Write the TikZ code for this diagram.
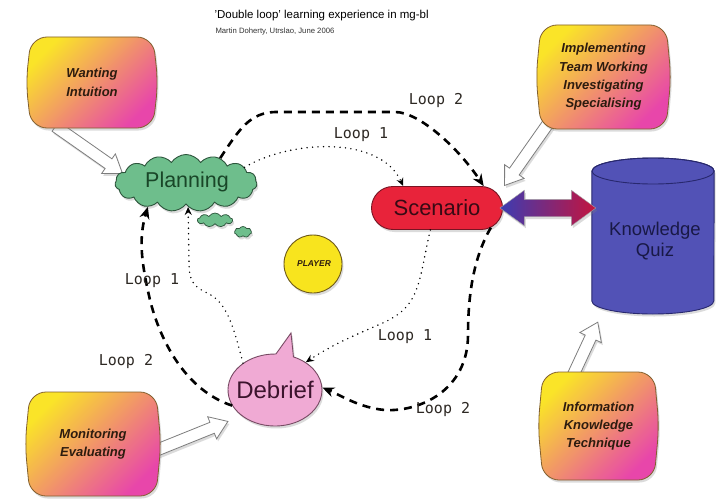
\documentclass[tikz,border=0pt]{standalone}
\usepackage{fontspec}
\setmainfont{Liberation Sans}
\newfontfamily\loopfont{DejaVu Sans Mono}
\usetikzlibrary{shapes.symbols,shapes.misc,shapes.arrows,shapes.callouts,arrows.meta,calc,shadows}

\definecolor{pyel}{RGB}{250,228,40}
\definecolor{porg}{RGB}{246,165,75}
\definecolor{pmag}{RGB}{232,70,170}
\definecolor{pedge}{RGB}{130,95,45}
\definecolor{ptext}{RGB}{45,28,15}
\definecolor{cloudg}{RGB}{110,190,140}
\definecolor{cloude}{RGB}{45,85,60}
\definecolor{cloudt}{RGB}{25,70,40}
\definecolor{scenr}{RGB}{232,35,58}
\definecolor{scene}{RGB}{120,20,35}
\definecolor{scent}{RGB}{55,10,20}
\definecolor{quizb}{RGB}{82,82,182}
\definecolor{quize}{RGB}{40,40,110}
\definecolor{quizt}{RGB}{25,25,70}
\definecolor{playy}{RGB}{248,228,30}
\definecolor{playe}{RGB}{110,90,25}
\definecolor{debp}{RGB}{240,170,212}
\definecolor{debe}{RGB}{120,75,100}
\definecolor{debt}{RGB}{60,20,45}
\definecolor{arrblue}{RGB}{60,60,178}
\definecolor{arrred}{RGB}{196,20,62}
\definecolor{lblc}{RGB}{45,40,35}
\definecolor{hollowe}{RGB}{125,125,125}

% gradient panel with slightly bulging sides: name, x1, y1, x2, y2, text
\newcommand\gpanel[6]{%
  \pgfmathsetmacro\gpymid{(#3+#5)/2}%
  \pgfmathsetmacro\gpxmid{(#2+#4)/2}%
  \path[panel] (#2,#3) -- (#4,#3) -- ({#4+5},\gpymid) -- (#4,#5) -- (#2,#5) -- ({#2-5},\gpymid) -- cycle;
  \node[paneltext] (#1) at (\gpxmid,\gpymid) {#6};}

% white block arrow between two named points: name, from, to
\newcommand\hollowarrow[3]{%
  \path let \p1=($(#3)-(#2)$), \n1={atan2(\y1,\x1)}, \n2={veclen(\x1,\y1)} in
    node[hollow, minimum height=\n2, rotate=\n1] (#1) at ($(#2)!0.5!(#3)$) {};}

\begin{document}
\begin{tikzpicture}[x=1pt,y=-1pt,
  softshadow/.style={drop shadow={opacity=0.28,shadow xshift=1.5pt,shadow yshift=-2.5pt}},
  panel/.style={softshadow, rounded corners=16pt, draw=pedge, line width=0.8pt,
    top color=pyel, middle color=porg, bottom color=pmag, shading angle=45},
  paneltext/.style={font=\bfseries\itshape\fontsize{13}{18.3}\selectfont, text=ptext, align=center},
  hollow/.style={single arrow, draw=hollowe, fill=white, line width=0.8pt,
    inner xsep=0pt, inner ysep=5.5pt, single arrow head extend=6pt,
    single arrow tip angle=70, softshadow},
  loopA/.style={line width=1.6pt, dash pattern=on 0pt off 5.5pt, line cap=round,
    -{Stealth[length=8pt,width=7pt]}},
  loopB/.style={line width=2.6pt, dash pattern=on 8pt off 6pt,
    -{Stealth[length=12pt,width=10pt]}},
  lbl/.style={font=\loopfont\fontsize{15}{15}\selectfont, text=lblc}]

\useasboundingbox (0,0) rectangle (725,503);
\fill[white] (0,0) rectangle (725,503);

% heading
\node[font=\fontsize{11.5}{13}\selectfont, anchor=west] (title) at (211,16)
  {'Double loop' learning experience in mg-bl};
\node[font=\fontsize{7.7}{9}\selectfont, anchor=west, text=black!80] (author) at (212,32)
  {Martin Doherty, Utrslao, June 2006};

% white block arrows (behind the panels)
\coordinate (wantA) at (52,124);
\coordinate (wantB) at (119,171);
\coordinate (implA) at (552,118);
\coordinate (implB) at (507,182);
\coordinate (monA) at (152,452);
\coordinate (monB) at (224,423);
\coordinate (infoA) at (568,386);
\coordinate (infoB) at (596,326);
\hollowarrow{warr}{wantA}{wantB}
\hollowarrow{iarr}{implA}{implB}
\hollowarrow{marr}{monA}{monB}
\hollowarrow{farr}{infoA}{infoB}

% gradient panels
\gpanel{want}{31}{37}{153}{128}{Wanting\\Intuition}
\gpanel{impl}{541}{25}{666}{129}{Implementing\\Team Working\\Investigating\\Specialising}
\gpanel{mon}{30}{392}{156}{496}{Monitoring\\Evaluating}
\gpanel{info}{543}{372}{654}{480}{Information\\Knowledge\\Technique}

% planning cloud and its trailing puffs
\node[cloud, cloud puffs=15, cloud puff arc=115, aspect=2.5, minimum width=142pt,
  minimum height=57pt, inner sep=0pt, fill=cloudg, draw=cloude, line width=0.9pt, softshadow]
  (plan) at (186,183) {};
\node[font=\fontsize{21.5}{24}\selectfont, text=cloudt] (plantxt) at (187,182) {Planning};
\node[cloud, cloud puffs=9, cloud puff arc=120, aspect=2.6, minimum width=35pt,
  minimum height=14pt, inner sep=0pt, fill=cloudg, draw=cloude, line width=0.7pt, softshadow]
  (puff1) at (215,220) {};
\node[cloud, cloud puffs=7, cloud puff arc=120, aspect=1.6, minimum width=17pt,
  minimum height=11pt, inner sep=0pt, fill=cloudg, draw=cloude, line width=0.7pt, softshadow]
  (puff2) at (243,232) {};

% scenario
\node[rounded rectangle, minimum width=131pt, minimum height=43pt, inner sep=0pt,
  fill=scenr, draw=scene, line width=0.9pt, softshadow] (scen) at (437,208) {};
\node[font=\fontsize{22}{24}\selectfont, text=scent] (scentxt) at (437,208) {Scenario};

% knowledge quiz cylinder
\node[minimum width=122pt, minimum height=157pt, inner sep=0pt] (quiz) at (653,236) {};
\path[fill=quizb, draw=quize, line width=0.9pt, softshadow]
  (quiz.west |- 0,171) -- (quiz.west |- 0,301)
  arc[start angle=180, end angle=0, x radius=61, y radius=13]
  -- (quiz.east |- 0,171)
  arc[start angle=0, end angle=-180, x radius=61, y radius=13] -- cycle;
\draw[quize, line width=0.9pt] (653,171) ellipse[x radius=61, y radius=13];
\node[font=\fontsize{18.5}{21.5}\selectfont, text=quizt, align=center] (quiztxt) at (655,241)
  {Knowledge\\Quiz};

% scenario <-> quiz block arrow
\coordinate (quizin) at ($(quiz.west |- scen.east)+(4,0)$);
\coordinate (scenout) at ($(scen.east)+(-3,0)$);
\path let \p1=($(quizin)-(scenout)$), \n2={veclen(\x1,\y1)} in
  node[double arrow, minimum height=\n2, inner xsep=0pt, inner ysep=8.5pt,
    double arrow head extend=9pt, double arrow tip angle=72,
    left color=arrblue, right color=arrred, draw=black!35, line width=0.4pt, softshadow]
  (link) at ($(scenout)!0.5!(quizin)$) {};

% player
\node[circle, minimum size=58pt, inner sep=0pt, fill=playy, draw=playe, line width=0.9pt,
  softshadow] (player) at (313,264) {};
\node[font=\bfseries\itshape\fontsize{8.5}{9}\selectfont, text=ptext] (playtxt) at (314,264) {PLAYER};

% debrief speech bubble
\node[ellipse callout, minimum width=94pt, minimum height=72pt, inner sep=0pt,
  callout absolute pointer={(291,333)}, callout pointer arc=22,
  fill=debp, draw=debe, line width=0.9pt, softshadow] (deb) at (275,390) {};
\node[font=\fontsize{24}{26}\selectfont, text=debt] (debtxt) at (275,390) {Debrief};

% loop 2 (dashed)
\draw[loopB] (plan.36) .. controls (240,128) and (250,113) .. (275,112)
  -- (395,112) .. controls (420,112) and (460,150) .. (scen.25);
\draw[loopB] (scen.-20) .. controls (475,255) and (468,290) .. (468,335)
  .. controls (468,390) and (420,412) .. (385,410)
  .. controls (360,408) and (340,395) .. (deb.3);
\draw[loopB] (deb.200) .. controls (185,390) and (160,340) .. (150,300)
  .. controls (142,265) and (138,240) .. (plan.212);

% loop 1 (dotted)
\draw[loopA] (plan.15) .. controls (290,140) and (380,135) .. (scen.147);
\draw[loopA] (scen.253) .. controls (418,285) and (420,305) .. (385,322)
  .. controls (360,333) and (335,343) .. (deb.42);
\draw[loopA] (deb.140) .. controls (232,320) and (225,300) .. (205,292)
  .. controls (192,285) and (189,280) .. (189,260) -- (plan.-85);

% loop labels
\node[lbl] (l2top) at (436,100) {Loop 2};
\node[lbl] (l1top) at (361,135) {Loop 1};
\node[lbl] (l1left) at (152,281) {Loop 1};
\node[lbl] (l2left) at (126,361) {Loop 2};
\node[lbl] (l1right) at (405,337) {Loop 1};
\node[lbl] (l2right) at (443,409) {Loop 2};
\end{tikzpicture}
\end{document}
